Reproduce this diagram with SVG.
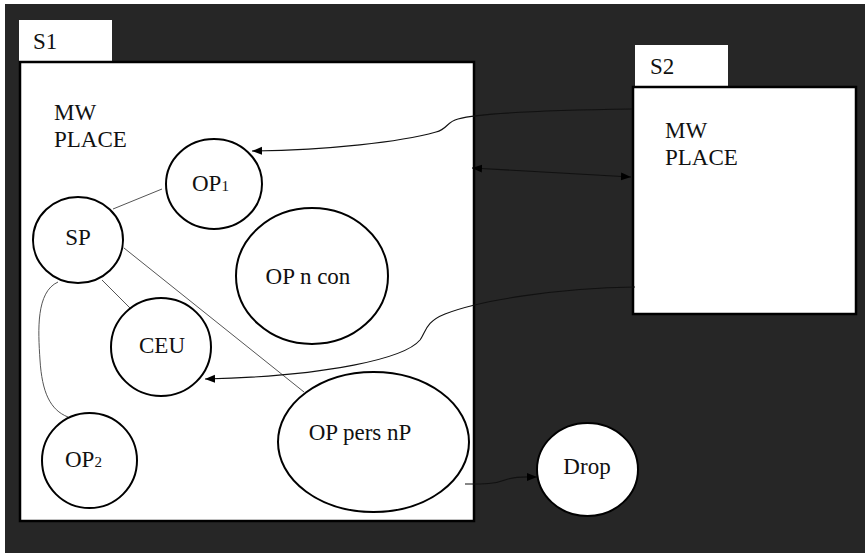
<svg xmlns="http://www.w3.org/2000/svg" width="865" height="553" viewBox="0 0 865 553">
<defs>
<marker id="ah" markerUnits="userSpaceOnUse" markerWidth="11" markerHeight="9" refX="10" refY="4" orient="auto-start-reverse">
<path d="M0,0 L10,4 L0,8 z" fill="#000"/>
</marker>
<style>
text{font-size:23px;fill:#111}
.sub{font-size:15px}
.box{fill:#fff;stroke:#000;stroke-width:2.5}
.tab{fill:#fff}
.node{fill:#fff;stroke:#000;stroke-width:2}
.ln{fill:none;stroke:#555;stroke-width:1}
.ar{fill:none;stroke:#111;stroke-width:1.1}
</style>
</defs>
<rect x="0" y="0" width="865" height="553" fill="#fff"/>
<rect x="5" y="4" width="860" height="549" fill="#262626"/>
<g font-family="'Liberation Serif', 'DejaVu Serif', serif">
<g id="S1">
<rect class="tab" x="19" y="20" width="93" height="41"/>
<text x="33" y="49">S1</text>
<rect class="box" x="20" y="62" width="454" height="459"/>
<text x="54" y="120">MW</text>
<text x="54" y="147">PLACE</text>
</g>

<g id="S2">
<rect class="tab" x="635" y="45" width="93" height="42"/>
<text x="650" y="74">S2</text>
<rect class="box" x="633" y="87" width="223" height="227"/>
<text x="665" y="138">MW</text>
<text x="665" y="165">PLACE</text>
</g>

<g id="connectors">
<path class="ln" d="M162,189 L113,209"/>
<path class="ln" d="M124,248 L304,392"/>
<path class="ln" d="M102,280 L132,310"/>
<path class="ln" d="M58,282 C36,292 38,330 40,360 C42,392 50,410 68,417"/>
<path class="ar" d="M632,109 C560,110 480,113 458,119 C446,122 448,129 436,132 C400,142 330,150 252,151" marker-end="url(#ah)"/>
<path class="ar" d="M635,287 C560,288 480,300 445,314 C425,322 426,332 420,340 C405,358 330,376 205,379" marker-end="url(#ah)"/>
<path class="ar" d="M472,168 L631,177" marker-start="url(#ah)" marker-end="url(#ah)"/>
<path class="ar" d="M465,484 C485,484 495,484 505,480 C515,476 525,477 537,477" marker-end="url(#ah)"/>
</g>

<g id="OP1">
<ellipse class="node" cx="214" cy="184" rx="48" ry="45"/>
<text x="192" y="191">OP<tspan class="sub">1</tspan></text>
</g>
<g id="SP">
<ellipse class="node" cx="78" cy="240" rx="45" ry="43"/>
<text x="78" y="245" text-anchor="middle">SP</text>
</g>
<g id="OPncon">
<ellipse class="node" cx="312" cy="276" rx="76" ry="68"/>
<text x="308" y="284" text-anchor="middle">OP n con</text>
</g>
<g id="CEU">
<ellipse class="node" cx="161" cy="347" rx="50" ry="49"/>
<text x="162" y="353" text-anchor="middle">CEU</text>
</g>
<g id="OP2">
<ellipse class="node" cx="89.5" cy="460.5" rx="47.5" ry="47.5"/>
<text x="65" y="467">OP<tspan class="sub">2</tspan></text>
</g>
<g id="OPpersnP">
<ellipse class="node" cx="373.5" cy="442" rx="95.5" ry="70"/>
<text x="360" y="440" text-anchor="middle">OP pers nP</text>
</g>
<g id="Drop">
<ellipse class="node" cx="587.5" cy="469.5" rx="50.5" ry="46.5"/>
<text x="587" y="474" text-anchor="middle">Drop</text>
</g>
</g>
</svg>
